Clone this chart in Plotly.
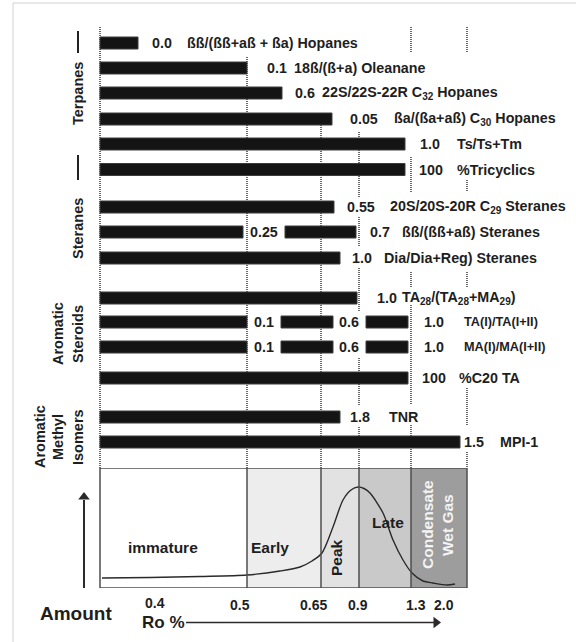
import plotly.graph_objects as go

# ---------------- data ----------------
# maturity parameters, top to bottom
param_names = [
    "ßß/(ßß+aß + ßa) Hopanes",
    "18ß/(ß+a) Oleanane",
    "22S/22S-22R C<sub>32</sub> Hopanes",
    "ßa/(ßa+aß) C<sub>30</sub> Hopanes",
    "Ts/Ts+Tm",
    "%Tricyclics",
    "20S/20S-20R C<sub>29</sub> Steranes",
    "ßß/(ßß+aß) Steranes",
    "Dia/Dia+Reg) Steranes",
    "TA<sub>28</sub>/(TA<sub>28</sub>+MA<sub>29</sub>)",
    "TA(I)/TA(I+II)",
    "MA(I)/MA(I+II)",
    "%C20 TA",
    "TNR",
    "MPI-1",
]
param_end_values = ["0.0", "0.1", "0.6", "0.05", "1.0", "100", "0.55", "0.7",
                    "1.0", "1.0", "1.0", "1.0", "100", "1.8", "1.5"]

# extent of each parameter's useful range along the maturity scale
# (start, end) pairs; 0 is the onset of the scale
bar_ranges = [
    [(0, 38)],
    [(0, 147)],
    [(0, 182)],
    [(0, 232)],
    [(0, 305)],
    [(0, 305)],
    [(0, 234)],
    [(0, 143), (185, 256)],
    [(0, 240)],
    [(0, 257)],
    [(0, 147), (181, 233), (266, 308)],
    [(0, 147), (181, 233), (266, 308)],
    [(0, 308)],
    [(0, 240)],
    [(0, 360)],
]
# intermediate values written between bar segments
inner_values = [
    (7, "0.25"),
    (10, "0.1"), (10, "0.6"),
    (11, "0.1"), (11, "0.6"),
]

group_names = [["Terpanes"], ["Steranes"], ["Aromatic", "Steroids"],
               ["Aromatic", "Methyl", "Isomers"]]

ro_labels = ["0.4", "0.5", "0.65", "0.9", "1.3", "2.0"]
# Ro boundaries on the maturity scale (0.5, 0.65, 0.9, 1.3, 2.0)
ro_bounds = [147, 221, 259, 311, 367]

zone_labels = [["immature"], ["Early"], ["Peak"], ["Late"], ["Condensate", "Wet Gas"]]

# oil generation curve: position on maturity scale vs. relative amount
curve_pos = [2, 50, 100, 147, 180, 200, 212, 222, 233, 243, 251, 258, 264, 270,
             283, 293, 303, 312, 323, 333, 347, 355]
curve_amount = [10, 10.5, 11.5, 13, 17, 21, 27, 35, 61, 88, 98, 101, 99.5, 95,
                75, 48, 28, 15, 7, 5, 3, 4]

# ---------------- layout constants ----------------
W, H = 576, 642
row_y = [43, 68, 93, 119, 144, 169.5, 207, 232, 258, 298, 322, 347, 378, 417, 442]
value_x = [50, 165, 193, 248, 318, 317, 245, 268, 250, 275, 322, 322, 320, 248, 362]
name_x = [85, 192, 220, 292, 355, 355, 288, 300, 282, 300, 362, 362, 357, 287, 398]
inner_x = [164, 164, 249, 164, 249]
group_pos = [([-22], 94), ([-22], 229), ([-42, -22], 334), ([-60, -42, -22], 437)]
zone_pos = [([63], 547, 0), ([170], 547, 0), ([236], 558, -90), ([288], 522, 0),
            ([327, 347], 525, -90)]
zone_color = ["#1e1e1e", "#1e1e1e", "#1e1e1e", "#1e1e1e", "#f4f4f4"]
BAR_H = 12
TXT = "#1e1e1e"
FONT = "Liberation Sans, Arial, sans-serif"
ROW_FS = 14.3

fig = go.Figure()

# dotted guide lines (drawn first so bars and labels sit on top)
grid_segments = [
    (0, [(27, 468)]),
    (ro_bounds[0], [(57, 468)]),
    (ro_bounds[1], [(115, 468)]),
    (ro_bounds[2], [(132, 198), (217, 246), (268, 312), (358, 405), (425, 468)]),
    (ro_bounds[3], [(27, 53), (157, 192), (272, 287), (305, 405), (425, 468)]),
    (ro_bounds[4], [(27, 53), (180, 192), (272, 287), (388, 426), (450, 468)]),
]
shapes = []
for gx, segs in grid_segments:
    for y0, y1 in segs:
        shapes.append(dict(type="line", xref="x", yref="y", x0=gx, x1=gx, y0=y0, y1=y1,
                           line=dict(color="#6a6a6a", width=2, dash="1px,1px"), layer="below"))

# horizontal bars
ys, bases, lens = [], [], []
for y, segs in zip(row_y, bar_ranges):
    for s, e in segs:
        ys.append(y)
        bases.append(s)
        lens.append(e - s)
fig.add_trace(go.Bar(
    orientation="h", y=ys, x=lens, base=bases, width=BAR_H,
    marker=dict(color="#141414", line=dict(color="#3c3c3c", width=1)),
    xaxis="x", yaxis="y", showlegend=False, hoverinfo="skip",
))

# generation window panel
zone_fill = ["#ffffff", "#ededed", "#e2e2e2", "#c9c9c9", "#9d9d9d"]
edges = [0] + ro_bounds
for i in range(5):
    shapes.append(dict(type="rect", xref="x2", yref="y2", x0=edges[i], x1=edges[i + 1],
                       y0=0, y1=120, fillcolor=zone_fill[i], line=dict(width=0), layer="below"))
for b in ro_bounds[:-1]:
    shapes.append(dict(type="line", xref="x2", yref="y2", x0=b, x1=b, y0=0, y1=120,
                       line=dict(color="#4e4e4e", width=1.5)))
shapes.append(dict(type="rect", xref="x2", yref="y2", x0=0, x1=ro_bounds[-1], y0=0, y1=120,
                   line=dict(color="#4e4e4e", width=1.5)))

fig.add_trace(go.Scatter(
    x=curve_pos, y=curve_amount, mode="lines",
    line=dict(color="#2a2a2a", width=1.4, shape="spline", smoothing=0.8),
    xaxis="x2", yaxis="y2", showlegend=False, hoverinfo="skip",
))

# light page frame
shapes.append(dict(type="line", xref="paper", yref="paper", x0=13 / W, x1=13 / W,
                   y0=0, y1=(H - 3) / H, line=dict(color="#d2d2d2", width=1)))
shapes.append(dict(type="line", xref="paper", yref="paper", x0=13 / W, x1=1,
                   y0=(H - 3) / H, y1=(H - 3) / H, line=dict(color="#d2d2d2", width=1)))

# group brackets beside Terpanes
for y0, y1 in [(31, 53), (155, 180)]:
    shapes.append(dict(type="line", xref="x", yref="y", x0=-22, x1=-22, y0=y0, y1=y1,
                       line=dict(color="#222", width=2)))

# axis arrows: shafts as lines, heads as triangle markers
shapes.append(dict(type="line", xref="x", yref="y", x0=86, x1=334, y0=622.5, y1=622.5,
                   line=dict(color="#2a2a2a", width=1.6)))
shapes.append(dict(type="line", xref="x", yref="y", x0=-16, x1=-16, y0=588, y1=500,
                   line=dict(color="#2a2a2a", width=2)))
fig.add_trace(go.Scatter(
    x=[336, -16], y=[622.5, 497], mode="markers",
    marker=dict(symbol=["triangle-right", "triangle-up"], size=10, color="#2a2a2a",
                line=dict(width=0)),
    xaxis="x", yaxis="y", showlegend=False, hoverinfo="skip",
))

ann = []


def label(x, y, text, size=ROW_FS, anchor="left", color=TXT, angle=0, bg=None):
    d = dict(x=x, y=y, xref="x", yref="y", text=text, showarrow=False,
             xanchor=anchor, yanchor="middle", textangle=angle,
             font=dict(family=FONT, size=size, color=color, weight="bold"))
    if bg:
        d["bgcolor"] = bg
    ann.append(d)


for i, y in enumerate(row_y):
    small = param_names[i].startswith(("TA(", "MA("))
    label(value_x[i], y, param_end_values[i], bg="white")
    label(name_x[i], y, param_names[i], size=12.7 if small else ROW_FS)
for (r, t), x in zip(inner_values, inner_x):
    label(x, row_y[r], t, anchor="center", bg="white")

# group captions
for lines, (xs, y) in zip(group_names, group_pos):
    for t, x in zip(lines, xs):
        label(x, y, t, size=14.5, angle=-90, anchor="center")

# generation zone captions
for lines, (xs, y, ang), col in zip(zone_labels, zone_pos, zone_color):
    for t, x in zip(lines, xs):
        label(x, y, t, size=15.5, anchor="center", angle=ang, color=col)

# Ro scale
ro_label_x = [55, 140, 213, 258, 316, 344]
for t, x in zip(ro_labels, ro_label_x):
    label(x, 605 if t != "0.4" else 603, t, size=14, anchor="center")
label(63, 622, "Ro %", size=17, anchor="center")
label(-24, 613, "Amount", size=19, anchor="center")

fig.update_layout(
    width=W, height=H, margin=dict(l=0, r=0, t=0, b=0),
    paper_bgcolor="white", plot_bgcolor="rgba(0,0,0,0)",
    barmode="overlay", shapes=shapes, annotations=ann,
    xaxis=dict(domain=[0, 1], range=[-100, W - 100], visible=False, fixedrange=True),
    yaxis=dict(domain=[0, 1], range=[H, 0], visible=False, fixedrange=True),
    xaxis2=dict(domain=[0, 1], range=[-100, W - 100], visible=False, anchor="y2"),
    yaxis2=dict(domain=[(H - 588) / H, (H - 468) / H], range=[0, 120], visible=False,
                anchor="x2"),
)

fig.write_html("out.html")
